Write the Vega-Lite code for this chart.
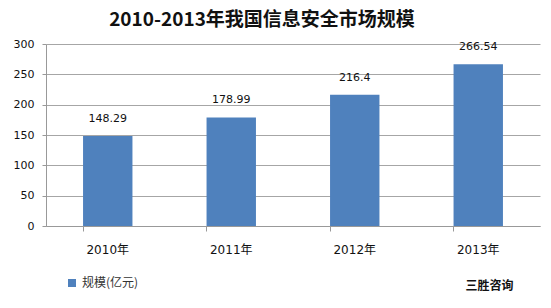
{
  "$schema": "https://vega.github.io/schema/vega-lite/v6.json",
  "autosize": "none",
  "width": 494,
  "height": 182,
  "padding": {"left": 46, "top": 44, "right": 11, "bottom": 82},
  "background": "white",
  "title": {
    "text": "2010-2013年我国信息安全市场规模",
    "font": "Noto Sans CJK SC",
    "fontSize": 19,
    "fontWeight": "bold",
    "color": "#111111",
    "anchor": "middle",
    "dx": -31,
    "offset": 8
  },
  "data": {
    "values": [
      {"year": "2010年", "value": 148.29, "series": "规模(亿元)"},
      {"year": "2011年", "value": 178.99, "series": "规模(亿元)"},
      {"year": "2012年", "value": 216.4, "series": "规模(亿元)"},
      {"year": "2013年", "value": 266.54, "series": "规模(亿元)"}
    ]
  },
  "config": {
    "view": {"stroke": null},
    "font": "DejaVu Sans"
  },
  "layer": [
    {
      "mark": {"type": "bar", "color": "#4F81BD"},
      "encoding": {
        "x": {
          "field": "year",
          "type": "nominal",
          "sort": null,
          "scale": {"paddingInner": 0.6, "paddingOuter": 0.3},
          "axis": {
            "title": "三胜咨询",
            "titleFont": "Noto Sans CJK SC",
            "titleFontSize": 12,
            "titleFontWeight": "bold",
            "titleColor": "#111111",
            "titleAnchor": "end",
            "titleX": 467,
            "titlePadding": 25,
            "labelAngle": 0,
            "labelFont": "DejaVu Sans, Noto Sans CJK SC",
            "labelFontSize": 12,
            "labelColor": "#111111",
            "labelPadding": 13,
            "bandPosition": 0,
            "tickSize": 5,
            "tickColor": "#999999",
            "domainColor": "#999999"
          }
        },
        "y": {
          "field": "value",
          "type": "quantitative",
          "scale": {"domain": [0, 300]},
          "axis": {
            "title": null,
            "values": [0, 50, 100, 150, 200, 250, 300],
            "tickCount": 7,
            "labelOverlap": false,
            "labelFont": "DejaVu Sans",
            "labelFontSize": 11,
            "labelColor": "#111111",
            "labelPadding": 8,
            "tickSize": 4,
            "tickColor": "#999999",
            "domainColor": "#999999",
            "gridColor": "#a6a6a6"
          }
        },
        "fill": {
          "field": "series",
          "type": "nominal",
          "scale": {"range": ["#4F81BD"]},
          "legend": {
            "title": null,
            "orient": "none",
            "legendX": 20,
            "legendY": 233,
            "symbolType": "square",
            "symbolSize": 64,
            "symbolStrokeWidth": 0,
            "labelFont": "Noto Sans CJK SC",
            "labelFontSize": 12,
            "labelColor": "#333333",
            "labelOffset": 4
          }
        }
      }
    },
    {
      "mark": {"type": "text", "baseline": "bottom", "dy": -12, "font": "DejaVu Sans", "fontSize": 11, "color": "#111111"},
      "encoding": {
        "x": {"field": "year", "type": "nominal", "sort": null},
        "y": {"field": "value", "type": "quantitative"},
        "text": {"field": "value", "type": "quantitative"}
      }
    }
  ]
}
